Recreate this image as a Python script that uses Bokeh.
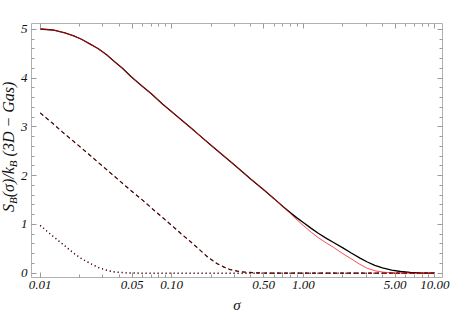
from bokeh.plotting import figure
from bokeh.models import (Range1d, FixedTicker, LogAxis, LinearAxis, PrintfTickFormatter,
                          CustomJSTickFormatter, Div)
from bokeh.layouts import row
from bokeh.embed import file_html
from bokeh.resources import INLINE

# ---- data ----
sigma_solid = [0.01, 0.0125, 0.0154, 0.018, 0.0206, 0.024, 0.0275, 0.032, 0.0368, 0.042,
               0.0492, 0.06, 0.07, 0.085, 0.1, 0.125, 0.15, 0.2, 0.25, 0.3, 0.4, 0.5,
               0.6, 0.7, 0.8, 0.9, 1.0, 1.15, 1.3, 1.5, 1.7, 2.0, 2.3, 2.7, 3.07, 3.5,
               4.0, 4.7, 5.5, 6.5, 7.5, 9.0, 10.0]
S_solid = [5.01, 4.99, 4.93, 4.87, 4.80, 4.70, 4.61, 4.48, 4.34, 4.21,
           4.03, 3.83, 3.68, 3.47, 3.31, 3.09, 2.91, 2.62, 2.40, 2.22, 1.93, 1.71,
           1.53, 1.37, 1.24, 1.13, 1.04, 0.92, 0.82, 0.715, 0.63, 0.52, 0.42, 0.31, 0.23, 0.16,
           0.11, 0.065, 0.035, 0.018, 0.008, 0.003, 0.0]

sigma_red = [0.01, 0.0125, 0.0154, 0.018, 0.0206, 0.024, 0.0275, 0.032, 0.0368, 0.042,
             0.0492, 0.06, 0.07, 0.085, 0.1, 0.125, 0.15, 0.2, 0.25, 0.3, 0.4, 0.5,
             0.6, 0.7, 0.8, 0.9, 1.0, 1.15, 1.3, 1.5, 1.7, 2.0, 2.3, 2.7, 3.07, 3.5,
             4.1, 5.0, 6.5, 10.0]
S_red = [5.01, 4.99, 4.93, 4.87, 4.80, 4.70, 4.61, 4.48, 4.34, 4.21,
         4.03, 3.83, 3.68, 3.47, 3.31, 3.09, 2.91, 2.62, 2.40, 2.22, 1.93, 1.71,
         1.53, 1.37, 1.22, 1.09, 0.98, 0.84, 0.73, 0.62, 0.53, 0.40, 0.30, 0.18, 0.10, 0.05,
         0.02, 0.006, 0.0, 0.0]

sigma_dashed = [0.01, 0.0125, 0.015, 0.0206, 0.03, 0.04, 0.0492, 0.06, 0.07, 0.085, 0.1,
                0.1178, 0.14, 0.16, 0.188, 0.22, 0.25, 0.274, 0.317, 0.37, 0.45, 0.6, 10.0]
S_dashed = [3.29, 3.07, 2.88, 2.57, 2.19, 1.90, 1.69, 1.50, 1.34, 1.145, 0.98,
            0.81, 0.64, 0.50, 0.33, 0.20, 0.125, 0.08, 0.04, 0.018, 0.006, 0.0, 0.0]

sigma_dotted = [0.01, 0.0115, 0.0133, 0.0154, 0.018, 0.0206, 0.024, 0.0275, 0.032, 0.0368,
                0.045, 0.06, 10.0]
S_dotted = [0.98, 0.84, 0.70, 0.56, 0.41, 0.30, 0.20, 0.12, 0.06, 0.025,
            0.007, 0.0, 0.0]

x_ticks = [0.01, 0.05, 0.1, 0.5, 1, 5, 10]
x_minor = [0.02, 0.03, 0.04, 0.06, 0.07, 0.08, 0.09,
           0.2, 0.3, 0.4, 0.6, 0.7, 0.8, 0.9,
           2, 3, 4, 6, 7, 8, 9]
y_ticks = [0, 1, 2, 3, 4, 5]
y_minor = [round(0.2 * i, 1) for i in range(1, 25) if i % 5 != 0]

FRAME = "#b0b0b0"
TICK = "#9a9a9a"
FONT = "Liberation Serif"

p = figure(width=446, height=316, x_axis_type="log",
           x_range=Range1d(0.00859, 11.44), y_range=Range1d(-0.088, 5.123),
           output_backend="svg", toolbar_location=None,
           min_border_left=13, min_border_right=21, min_border_top=23, min_border_bottom=39)
p.grid.visible = False
p.outline_line_color = FRAME
p.outline_line_width = 1

bottom = p.below[0]
left = p.left[0]
top = LogAxis()
right = LinearAxis()
p.add_layout(top, "above")
p.add_layout(right, "right")

for ax in [bottom, top]:
    ax.ticker = FixedTicker(ticks=x_ticks, minor_ticks=x_minor)
for ax in [left, right]:
    ax.ticker = FixedTicker(ticks=y_ticks, minor_ticks=y_minor)
bottom.formatter = PrintfTickFormatter(format="%.2f")
left.formatter = PrintfTickFormatter(format="%d")
for ax in [top, right]:
    ax.formatter = CustomJSTickFormatter(code="return ''")
    ax.major_label_standoff = 0

for ax in [bottom, top, left, right]:
    ax.axis_line_color = None
    ax.major_tick_in = 5
    ax.major_tick_out = 0
    ax.minor_tick_in = 3
    ax.minor_tick_out = 0
    ax.major_tick_line_color = TICK
    ax.minor_tick_line_color = TICK
    ax.major_label_text_font = FONT
    ax.major_label_text_font_style = "italic"
    ax.major_label_text_font_size = "13px"
    ax.major_label_text_color = "#111111"

bottom.major_label_standoff = 3
left.major_label_standoff = 4

bottom.axis_label = "σ"
bottom.axis_label_text_font = FONT
bottom.axis_label_text_font_style = "italic"
bottom.axis_label_text_font_size = "15px"
bottom.axis_label_text_color = "#111111"
bottom.axis_label_standoff = 5

# curves: black first, red on top
p.line(sigma_solid, S_solid, line_color="black", line_width=1.3)
p.line(sigma_dashed, S_dashed, line_color="black", line_width=1.2, line_dash="4 3")
p.line(sigma_dotted, S_dotted, line_color="black", line_width=1.5, line_dash="1 3")
p.line(sigma_red, S_red, line_color="red", line_width=0.7)
p.line(sigma_dashed, S_dashed, line_color="#c00000", line_width=0.6, line_dash="4 3")
p.line(sigma_dotted, S_dotted, line_color="#c00000", line_width=0.7, line_dash="1 3")

# rotated y-axis title with real subscripts
sub = "font-size:11px; position:relative; top:3px;"
ylabel_html = (
    '<div style="position:absolute; left:0; top:0; width:17px; height:316px;">'
    '<span style="position:absolute; left:1px; top:212px; transform-origin:0 0; '
    'transform:rotate(-90deg); white-space:nowrap; font-family:\'Liberation Serif\'; '
    'font-style:italic; font-size:16px; line-height:16px; color:#111111;">'
    f'S<span style="{sub}">B</span>(σ)/k<span style="{sub}">B</span> (3D − Gas)'
    '</span></div>'
)
ylab = Div(text=ylabel_html, width=17, height=316, margin=0,
           styles={"position": "relative", "overflow": "visible"})

layout = row(ylab, p, spacing=0)
open("out.html", "w").write(file_html(layout, INLINE))
